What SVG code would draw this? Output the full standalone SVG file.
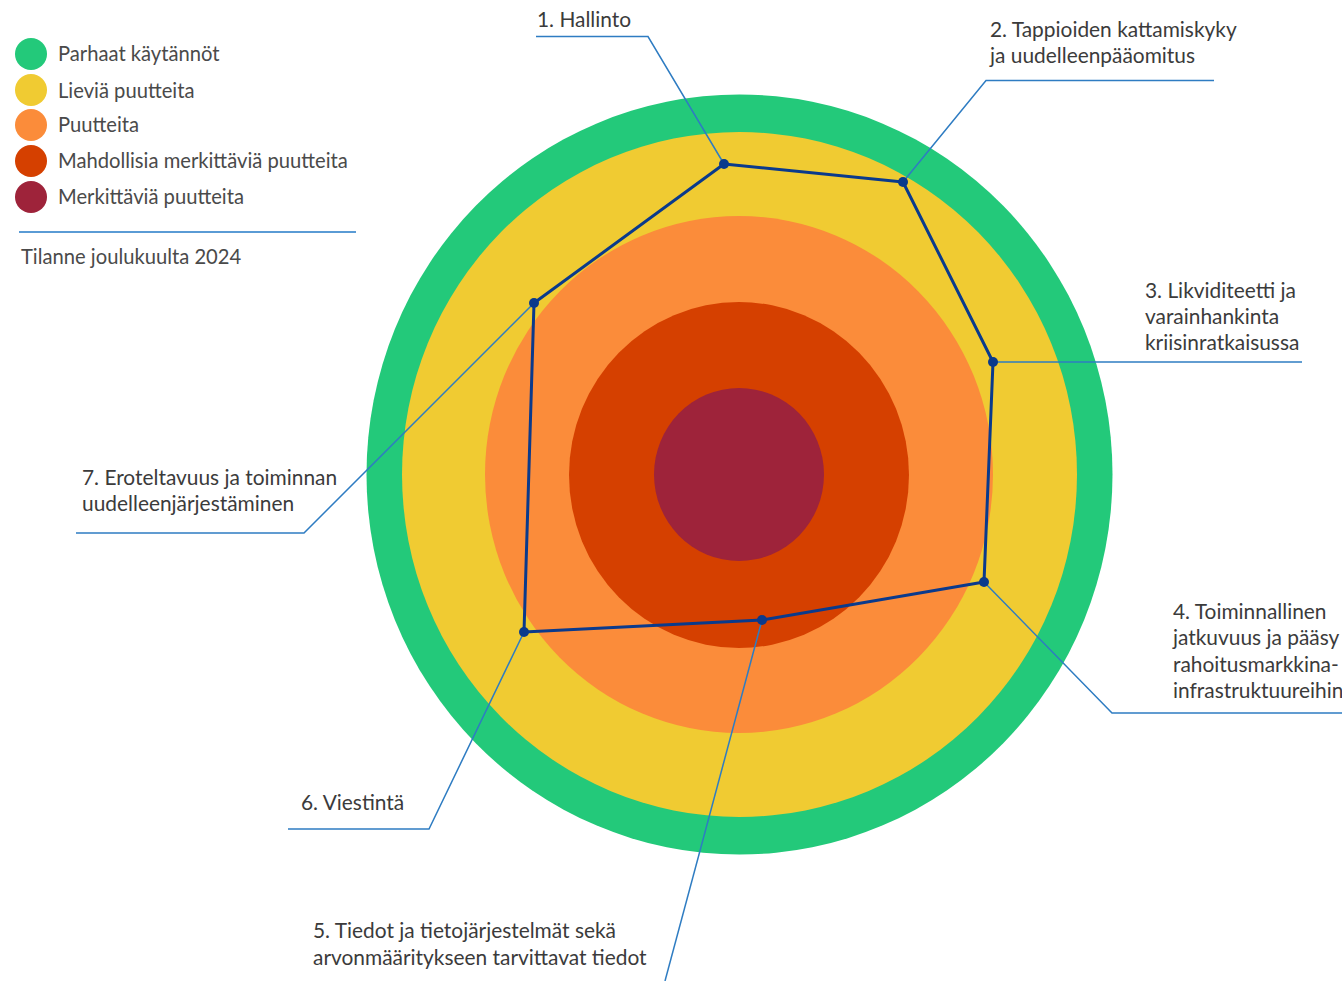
<svg xmlns="http://www.w3.org/2000/svg" width="1342" height="981" viewBox="0 0 1342 981">
<style>
.t{font-family:Lato,"Open Sans","Liberation Sans",sans-serif;font-size:20.9px;fill:#3b3b3b}
.lg{font-family:Lato,"Open Sans","Liberation Sans",sans-serif;font-size:20.2px;fill:#4a4a4a}
.ld{fill:none;stroke:#2e7cc2;stroke-width:1.5}
.poly{fill:none;stroke:#0a3a8c;stroke-width:3;stroke-linejoin:round}
.dot{fill:#0a3a8c}
</style>
<rect width="1342" height="981" fill="#fff"/>
<g id="rings">
<ellipse cx="739.5" cy="474.5" rx="373" ry="380" fill="#23c97a"/>
<ellipse cx="739.5" cy="474.5" rx="337.5" ry="342.5" fill="#f0cb32"/>
<ellipse cx="739" cy="474.5" rx="254" ry="258.5" fill="#fb8c3a"/>
<ellipse cx="739" cy="475" rx="170" ry="173" fill="#d54000"/>
<ellipse cx="739" cy="474.5" rx="85" ry="86.5" fill="#9e233a"/>
</g>
<g id="legend">
<circle cx="31" cy="54" r="16" fill="#23c97a"/>
<circle cx="31" cy="90" r="16" fill="#f0cb32"/>
<circle cx="31" cy="125" r="16" fill="#fb8c3a"/>
<circle cx="31" cy="161" r="16" fill="#d54000"/>
<circle cx="31" cy="197" r="16" fill="#9e233a"/>
<text class="lg" x="58" y="61">Parhaat käytännöt</text>
<text class="lg" x="58" y="98">Lieviä puutteita</text>
<text class="lg" x="58" y="132">Puutteita</text>
<text class="lg" x="58" y="168">Mahdollisia merkittäviä puutteita</text>
<text class="lg" x="58" y="204">Merkittäviä puutteita</text>
<line x1="19" y1="232" x2="356" y2="232" stroke="#5a9bd5" stroke-width="2"/>
<text class="lg" x="21" y="264">Tilanne joulukuulta 2024</text>
</g>
<g id="connectors">
<polyline class="ld" points="724,164 648,36.5 536,36.5"/>
<polyline class="ld" points="903,182 986,80.5 1214,80.5"/>
<polyline class="ld" points="993,362 1302,362"/>
<polyline class="ld" points="984,582 1112,713 1342,713"/>
<polyline class="ld" points="762,620 665,981"/>
<polyline class="ld" points="524,632 429,829 288,829"/>
<polyline class="ld" points="534,303 304,533 76,533"/>
</g>
<g id="profile">
<polygon class="poly" points="724,164 903,182 993,362 984,582 762,620 524,632 534,303"/>
<circle class="dot" cx="724" cy="164" r="5"/>
<circle class="dot" cx="903" cy="182" r="5"/>
<circle class="dot" cx="993" cy="362" r="5"/>
<circle class="dot" cx="984" cy="582" r="5"/>
<circle class="dot" cx="762" cy="620" r="5"/>
<circle class="dot" cx="524" cy="632" r="5"/>
<circle class="dot" cx="534" cy="303" r="5"/>
</g>
<g id="label1"><text class="t" x="537" y="27">1. Hallinto</text></g>
<g id="label2"><text class="t" x="990" y="37">2. Tappioiden kattamiskyky</text><text class="t" x="990" y="63">ja uudelleenpääomitus</text></g>
<g id="label3"><text class="t" x="1145" y="298">3. Likviditeetti ja</text><text class="t" x="1145" y="324">varainhankinta</text><text class="t" x="1145" y="350">kriisinratkaisussa</text></g>
<g id="label4"><text class="t" x="1173" y="619">4. Toiminnallinen</text><text class="t" x="1173" y="645">jatkuvuus ja pääsy</text><text class="t" x="1173" y="672">rahoitusmarkkina-</text><text class="t" x="1173" y="698">infrastruktuureihin</text></g>
<g id="label5"><text class="t" x="313" y="938">5. Tiedot ja tietojärjestelmät sekä</text><text class="t" x="313" y="965">arvonmääritykseen tarvittavat tiedot</text></g>
<g id="label6"><text class="t" x="301" y="810">6. Viestintä</text></g>
<g id="label7"><text class="t" x="82" y="485">7. Eroteltavuus ja toiminnan</text><text class="t" x="82" y="511">uudelleenjärjestäminen</text></g>
</svg>
